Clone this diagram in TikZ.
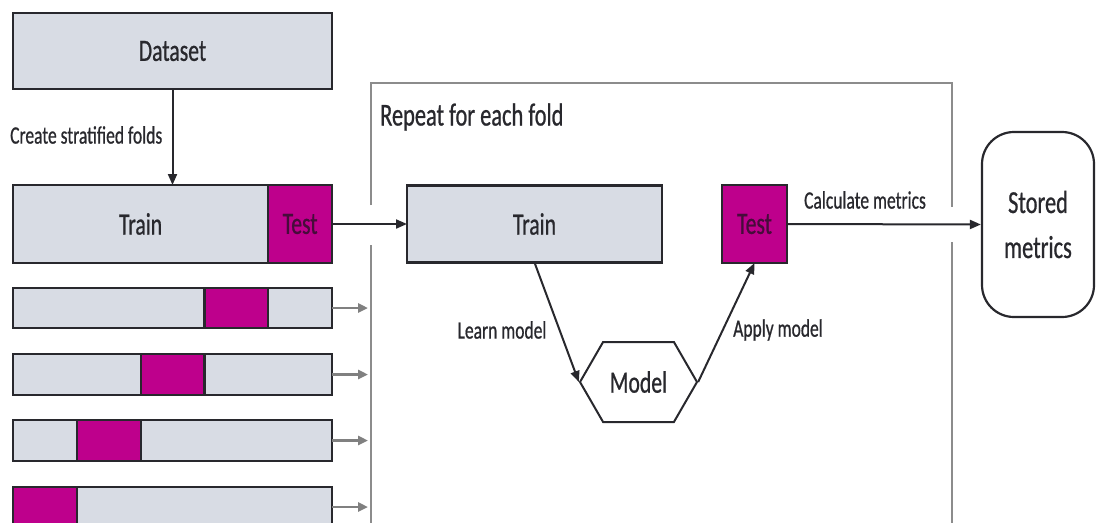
\documentclass[tikz,border=0pt]{standalone}
\usepackage{fontspec}
\setmainfont[FakeStretch=0.7,FakeBold=0.7]{Carlito}
\usetikzlibrary{arrows.meta,shapes.symbols}
\definecolor{barfill}{RGB}{216,220,228}
\definecolor{testfill}{RGB}{190,0,140}
\definecolor{ink}{RGB}{40,40,45}
\definecolor{testink}{RGB}{70,12,58}
\definecolor{framegray}{RGB}{140,140,140}
\definecolor{feedgray}{RGB}{128,128,128}
\begin{document}
\begin{tikzpicture}[x=1pt,y=-1pt,
  big/.style={font=\fontsize{31}{36}\selectfont},
  small/.style={font=\fontsize{25}{30}\selectfont, text=ink, inner sep=0pt},
  box/.style={draw=ink, line width=2.2pt, fill=barfill, inner sep=0pt,
    outer sep=0pt, text=ink, big},
  testbox/.style={box, fill=testfill, text=testink},
  bar/.style={box, minimum width=319pt, minimum height=40.5pt},
  seg/.style={testbox, minimum width=63.8pt, minimum height=40.5pt},
  flow/.style={draw=ink, line width=2pt, -{Triangle[length=11pt,width=9pt]}},
  feed/.style={draw=feedgray, line width=2.5pt, -{Triangle[length=10pt,width=9pt]}},
  frame/.style={draw=framegray, line width=2pt}
]
\useasboundingbox (0,0) rectangle (1097,522);
\clip (0,0) rectangle (1097,522);

% loop frame, left open where the arrows pass through
\draw[frame] (371,205) -- (371,83) -- (952,83) -- (952,207);
\draw[frame] (371,245) -- (371,540);
\draw[frame] (952,242) -- (952,540);
\node[anchor=west, inner sep=0pt, text=ink, font=\fontsize{32}{38}\selectfont]
  (looplabel) at (380,117) {Repeat for each fold};

% whole dataset and its first split
\node[box, minimum width=319pt, minimum height=76pt] (dataset) at (172.5,51) {Dataset};
\node[box, minimum width=255.2pt, minimum height=78pt] (row1train) at (140.6,224) {Train};
\node[testbox, minimum width=63.8pt, minimum height=78pt] (row1test) at (300.1,224) {Test};
\draw[flow] (dataset.south) -- (dataset.south |- row1train.north);
\node[small, anchor=west] (stratlabel) at (10,135) {Create stratified folds};

% remaining folds
\node[bar] (bar2) at (172.5,308) {};
\node[seg] (seg2) at (236.3,308) {};
\node[bar] (bar3) at (172.5,374.5) {};
\node[seg] (seg3) at (172.5,374.5) {};
\node[bar] (bar4) at (172.5,440.5) {};
\node[seg] (seg4) at (108.7,440.5) {};
\node[bar] (bar5) at (172.5,507) {};
\node[seg] (seg5) at (44.9,507) {};

\coordinate (fe2) at (368,308);
\coordinate (fe3) at (368,374.5);
\coordinate (fe4) at (368,440.5);
\coordinate (fe5) at (368,507);
\draw[feed] (bar2.east) -- (fe2);
\draw[feed] (bar3.east) -- (fe3);
\draw[feed] (bar4.east) -- (fe4);
\draw[feed] (bar5.east) -- (fe5);

% one fold: train, model, test
\node[box, minimum width=255pt, minimum height=77pt] (train) at (534.5,224) {Train};
\node[testbox, minimum width=65pt, minimum height=78pt] (test) at (754.5,224) {Test};
\node[signal, signal to=west and east, signal pointer angle=120, draw=ink,
  line width=2pt, minimum width=117pt, minimum height=80pt, inner sep=0pt,
  text=ink, big] (model) at (638.5,382) {Model};
\node[draw=ink, line width=2.2pt, rounded corners=32pt, minimum width=112pt,
  minimum height=185pt, align=center, text=ink, inner sep=0pt,
  font=\fontsize{32}{45}\selectfont] (stored) at (1038,224.5) {Stored\\metrics};

\draw[flow] (row1test.east) -- (train.west);
\draw[flow] (train.south) -- (model.west);
\draw[flow] (model.east) -- (test.south);
\draw[flow] (test.east) -- (stored.west);

\node[small] (learnlabel) at (502,330) {Learn model};
\node[small] (applylabel) at (778,330) {Apply model};
\node[small] (calclabel) at (865,200) {Calculate metrics};
\end{tikzpicture}
\end{document}
